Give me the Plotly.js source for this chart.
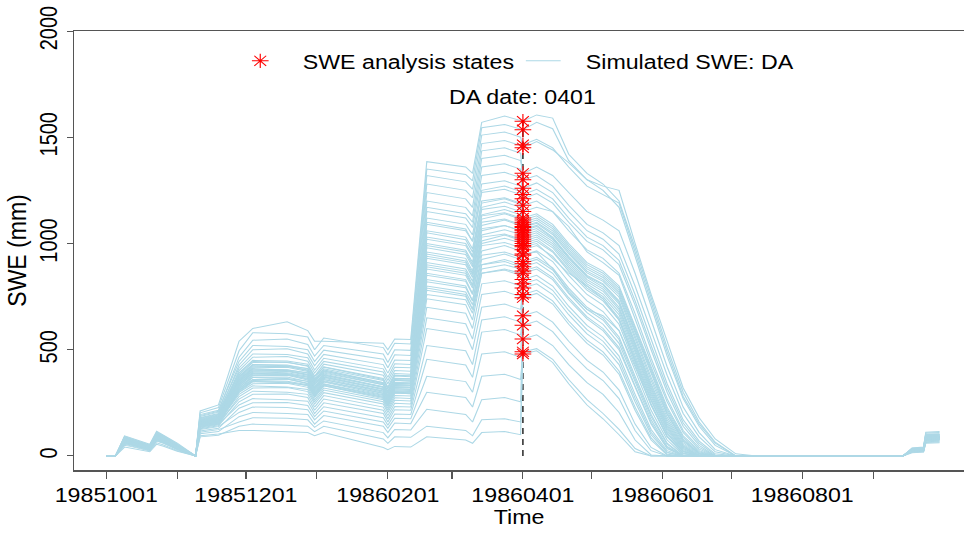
<!DOCTYPE html>
<html>
<head>
<meta charset="utf-8">
<script src="https://cdn.plot.ly/plotly-3.0.1.min.js"></script>
<style>
html,body{margin:0;padding:0;background:#fff;overflow:hidden;}
#chart{width:831px;height:533px;transform:scale(1.16,1);transform-origin:0 0;}
</style>
</head>
<body>
<div id="chart"></div>
<script>
// ---------- DATA ----------
const daDate = '1986-04-01';
const tickDates = ['1985-10-01','1985-11-01','1985-12-01','1986-01-01','1986-02-01','1986-03-01',
                   '1986-04-01','1986-05-01','1986-06-01','1986-07-01','1986-08-01','1986-09-01'];
const tickLabels = ['19851001','','19851201','','19860201','','19860401','','19860601','','19860801',''];
const yTicks = [0, 500, 1000, 1500, 2000];

// open-loop period: one row per date, one value per ensemble member (45 members)
const preDates = ['1985-10-01','1985-10-05','1985-10-09','1985-10-12','1985-10-20','1985-10-23','1985-10-26',
  '1985-11-01','1985-11-09','1985-11-11','1985-11-19','1985-11-28','1985-12-04','1985-12-19','1985-12-28',
  '1985-12-31','1986-01-04','1986-01-30','1986-02-01','1986-02-04','1986-02-11','1986-02-18','1986-03-07',
  '1986-03-10','1986-03-14','1986-03-24','1986-03-31'];
const preSWE = [
  [0,0,0,0,0,0,0,0,0,0,0,0,0,0,0,0,0,0,0,0,0,0,0,0,0,0,0,0,0,0, 0,0,0,0,0,0,0,0,0,0,0,0,0,0,0],
  [0,0,0,0,0,0,0,0,0,0,0,0,0,0,0,0,0,0,0,0,0,0,0,0,0,0,0,0,0,0, 0,0,0,0,0,0,0,0,0,0,0,0,0,0,0],
  [58,42,66,55,70,50,62,75,64,68,60,72,80,67,74,70,86,77,73,82,79,90,76,84,95,78,88,81,92,83, 71,65,80,74,69,77,85,63,72,78,68,83,75,70,88],
  [52,36,58,48,62,44,55,66,56,60,52,64,70,59,65,62,76,68,64,72,70,80,67,74,84,69,78,72,81,73, 63,57,71,65,61,68,75,55,64,69,60,73,66,62,78],
  [30,20,34,26,37,24,31,40,32,35,29,38,42,33,39,36,47,40,35,44,41,50,37,45,55,40,48,43,52,46, 36,32,41,38,34,40,45,30,37,41,33,44,39,35,47],
  [78,55,85,70,90,62,76,95,79,84,72,88,99,80,92,86,106,93,82,101,89,112,87,97,116,83,109,95,103,74, 86,80,96,90,84,92,104,77,88,94,82,100,91,85,108],
  [66,46,72,60,76,52,64,80,67,71,61,75,84,68,78,73,90,79,70,86,76,95,74,82,98,70,92,81,88,63, 73,68,82,77,71,78,88,65,75,80,70,85,77,72,92],
  [36,22,40,30,43,26,34,46,35,38,31,41,48,37,44,40,52,45,38,49,42,56,40,47,60,39,54,44,50,33, 40,36,46,42,38,44,50,34,41,45,37,48,43,39,52],
  [0,0,0,0,0,0,0,0,0,0,0,0,0,0,0,0,0,0,0,0,0,0,0,0,0,0,0,0,0,0, 0,0,0,0,0,0,0,0,0,0,0,0,0,0,0],
  [95,90,112,105,125,118,135,128,140,132,145,150,138,155,148,160,143,165,158,170,152,175,180,168,186,178,195,190,203,212, 150,146,158,162,140,155,168,144,152,160,148,165,156,142,172],
  [103,98,124,115,138,130,150,142,155,147,160,165,152,170,163,176,158,182,174,188,168,193,200,186,206,196,215,210,228,240, 165,160,172,178,152,170,184,157,166,175,162,180,168,155,190],
  [120,140,160,185,205,225,240,255,268,280,290,300,310,318,326,334,342,350,358,366,374,382,392,402,414,428,445,465,495,540, 330,315,350,362,300,340,375,310,335,355,322,370,345,305,390],
  [120,150,180,205,230,250,270,290,305,320,330,340,350,360,370,380,390,400,410,420,430,440,450,465,480,500,520,545,580,600, 385,370,405,415,350,395,430,360,390,410,378,425,400,355,445],
  [115,145,178,200,228,252,265,292,300,322,325,342,345,362,365,382,385,402,405,422,425,442,447,468,478,505,515,550,575,632, 383,372,400,418,348,392,428,362,388,406,380,422,398,352,440],
  [110,140,170,195,218,238,258,275,290,303,313,323,333,342,352,362,372,382,392,402,412,422,432,446,462,480,500,525,560,590, 365,350,385,398,330,375,410,340,370,390,358,405,380,335,425],
  [95,115,135,150,170,185,200,215,230,245,255,265,275,285,295,305,315,325,335,345,355,365,375,390,405,425,445,470,500,540, 310,290,335,350,280,320,360,295,315,340,300,355,325,285,375],
  [110,140,165,190,212,232,250,268,284,298,310,320,330,340,350,360,370,380,390,400,410,420,432,445,460,478,498,520,555,540, 360,348,382,395,330,372,405,338,366,386,354,400,376,334,418],
  [40,80,110,140,160,180,200,215,230,245,255,265,275,285,295,305,315,325,335,345,355,365,380,395,410,430,455,480,510,530, 300,288,322,335,270,312,345,280,306,326,294,340,316,276,360],
  [30,60,85,110,130,145,160,175,190,205,215,225,235,245,255,265,275,285,295,305,315,325,340,355,370,390,415,440,475,500, 262,250,282,295,235,272,305,242,266,286,256,300,276,240,320],
  [45,90,125,155,178,198,218,233,248,262,274,285,296,306,316,326,336,346,356,366,376,388,402,418,434,452,476,500,530,550, 322,310,342,355,296,332,365,302,326,346,316,360,336,300,380],
  [42,88,122,152,175,195,215,230,245,259,271,282,293,303,313,323,333,343,353,363,373,385,399,415,431,449,473,497,527,548, 320,308,340,352,293,330,362,300,324,344,314,357,334,297,378],
  [90,140,220,300,375,455,520,600,650,700,740,790,830,860,900,930,960,990,1020,1060,1090,1120,1150,1170,1200,1240,1280,1320,1350,1385, 880,820,950,1000,760,910,1050,800,890,980,850,1030,940,780,1100],
  [75,120,195,275,350,428,495,572,622,672,712,760,800,830,870,900,930,960,990,1030,1060,1090,1120,1140,1170,1210,1250,1290,1325,1360, 850,792,918,968,735,880,1018,772,860,948,822,1000,910,752,1068],
  [60,95,160,230,300,370,430,500,550,600,640,690,730,765,805,840,870,900,935,975,1010,1040,1075,1100,1130,1170,1215,1255,1295,1330, 790,730,860,912,672,822,960,712,800,890,760,942,852,690,1010],
  [110,170,265,375,480,583,640,700,760,810,860,900,945,990,1030,1070,1100,1130,1160,1200,1240,1280,1320,1360,1400,1436,1470,1510,1545,1570, 1000,925,1085,1135,860,1040,1190,900,1012,1115,965,1170,1060,880,1250],
  [115,175,275,385,490,595,655,715,775,825,875,915,960,1005,1045,1085,1115,1145,1175,1215,1255,1295,1335,1375,1415,1450,1485,1525,1560,1600, 1025,950,1110,1160,880,1065,1210,925,1040,1140,990,1195,1085,900,1270],
  [100,160,255,360,465,570,630,690,750,800,850,890,935,980,1020,1060,1090,1120,1150,1190,1230,1270,1310,1350,1390,1425,1460,1500,1540,1580, 1000,925,1085,1135,860,1040,1185,900,1015,1115,965,1170,1060,880,1245]
];

// SWE analysis states on the DA date (one per member)
const analysisSWE = [550,480,615,490,745,660,830,790,890,860,945,915,990,1030,970,1065,1010,1100,1050,1080,1180,1120,1260,1210,1330,1300,1465,1450,1535,1575,
  1000,950,1060,1090,905,1040,1150,760,1020,1075,870,1110,985,810,1230];

// melt season after DA: one row per member
const postDates = ['1986-04-07','1986-04-14','1986-04-21','1986-04-29','1986-05-06','1986-05-13','1986-05-20',
  '1986-05-27','1986-06-03','1986-06-10','1986-06-17','1986-06-24','1986-07-03','1986-07-12'];
const postSWE = [
  [570,520,430,345,290,205,75,5,0,0,0,0,0,0],
  [495,440,340,240,175,100,20,0,0,0,0,0,0,0],
  [635,585,495,410,355,270,120,25,0,0,0,0,0,0],
  [505,455,360,265,200,125,35,0,0,0,0,0,0,0],
  [765,715,620,530,475,385,215,75,5,0,0,0,0,0],
  [680,630,540,450,395,310,150,40,0,0,0,0,0,0],
  [850,800,705,615,560,470,290,125,25,0,0,0,0,0],
  [810,760,665,575,520,430,255,100,15,0,0,0,0,0],
  [910,860,765,675,620,530,345,170,45,0,0,0,0,0],
  [880,830,735,645,590,500,320,150,35,0,0,0,0,0],
  [965,915,820,730,680,590,400,215,75,5,0,0,0,0],
  [935,885,790,700,650,560,375,195,60,0,0,0,0,0],
  [1010,960,870,780,730,640,450,260,105,20,0,0,0,0],
  [1050,1000,910,820,775,690,500,300,135,35,0,0,0,0],
  [990,940,850,760,710,620,430,240,90,10,0,0,0,0],
  [1085,1030,940,850,810,730,540,340,170,55,5,0,0,0],
  [1030,980,890,800,750,665,475,280,120,25,0,0,0,0],
  [1120,1070,980,890,850,780,590,390,210,80,15,0,0,0],
  [1070,1020,930,840,795,715,520,320,150,45,0,0,0,0],
  [1100,1050,960,870,830,760,570,370,195,70,10,0,0,0],
  [1200,1150,1060,970,930,860,670,460,270,120,40,0,0,0],
  [1140,1090,1000,910,870,800,610,410,230,95,25,0,0,0],
  [1285,1240,1150,1060,1020,950,760,550,340,170,70,10,0,0],
  [1235,1190,1100,1010,970,900,710,500,300,140,50,0,0,0],
  [1360,1320,1240,1150,1110,1060,860,640,420,230,110,30,0,0],
  [1320,1270,1180,1090,1050,990,800,590,380,200,90,20,0,0],
  [1490,1450,1360,1270,1230,1190,960,720,490,280,150,60,0,0],
  [1480,1440,1380,1300,1270,1250,1000,760,540,320,180,80,10,0],
  [1570,1540,1390,1300,1250,1170,940,700,470,270,140,50,0,0],
  [1605,1590,1420,1330,1280,1200,980,740,510,300,160,65,0,0],
  [1020,965,880,790,740,650,460,268,110,22,0,0,0,0],
  [960,880,770,690,660,590,420,240,90,12,0,0,0,0],
  [1080,1025,935,845,805,722,530,330,160,50,0,0,0,0],
  [1110,1060,970,880,840,770,580,380,200,75,12,0,0,0],
  [925,875,780,690,640,548,362,185,55,0,0,0,0,0],
  [1060,1010,920,830,785,700,510,310,142,40,0,0,0,0],
  [1170,1150,1080,960,910,850,650,440,255,110,32,0,0,0],
  [780,730,635,545,490,400,230,85,8,0,0,0,0,0],
  [1040,990,900,810,762,678,488,290,128,30,0,0,0,0],
  [1095,1042,952,862,822,748,556,356,182,62,8,0,0,0],
  [890,840,745,655,600,510,330,158,40,0,0,0,0,0],
  [1130,1080,990,900,860,790,600,400,220,88,20,0,0,0],
  [1000,930,860,800,740,640,440,245,95,14,0,0,0,0],
  [830,780,685,595,540,450,272,112,18,0,0,0,0,0],
  [1255,1210,1120,1030,990,920,730,520,320,155,60,5,0,0]
];

// new snow at the end of September: one row per date
const lateDates = ['1986-09-14','1986-09-18','1986-09-23','1986-09-24','1986-09-30'];
const lateSWE = [
  [0,0,0,0,0,0,0,0,0,0,0,0,0,0,0,0,0,0,0,0,0,0,0,0,0,0,0,0,0,0, 0,0,0,0,0,0,0,0,0,0,0,0,0,0,0],
  [15,18,20,20,22,22,24,24,25,25,26,26,27,27,28,28,28,29,29,30,30,31,31,32,32,33,34,35,36,38, 25,27,28,29,30,26,31,24,27,29,25,32,28,26,33],
  [18,20,22,23,24,25,26,27,28,28,29,29,30,30,31,31,32,32,33,33,34,34,35,36,36,37,38,39,40,42, 28,30,31,32,33,29,34,27,30,32,28,35,31,29,36],
  [60,64,67,70,72,74,75,76,77,78,79,80,81,82,83,84,85,86,87,88,89,90,92,94,96,98,100,103,108,112, 80,84,86,88,90,82,92,78,85,89,81,95,87,83,99],
  [62,66,69,72,74,76,77,78,79,80,81,82,83,84,85,86,87,88,89,90,91,92,94,96,98,100,102,105,110,115, 82,86,88,90,92,84,94,80,87,91,83,97,89,85,101]
];

// ---------- TRACES ----------
const FONT = 'Liberation Sans, Arial, Helvetica, sans-serif';
const allDates = preDates.concat([daDate], postDates, lateDates);
const traces = [];
// dashed DA-date marker line (drawn first, the ensemble lines pass over it)
traces.push({
  type: 'scatter', mode: 'lines', x: [daDate, daDate], y: [0, Math.max(...analysisSWE)],
  line: {color: '#000', width: 1.1, dash: '6px,5px'}, showlegend: false, hoverinfo: 'skip'
});
for (let i = 0; i < analysisSWE.length; i++) {
  const y = preSWE.map(r => r[i]).concat([analysisSWE[i]], postSWE[i], lateSWE.map(r => r[i]));
  traces.push({
    type: 'scatter', mode: 'lines', x: allDates, y: y,
    line: {color: '#ADD8E6', width: 1},
    name: '\u00a0\u00a0\u00a0Simulated SWE: DA',
    showlegend: i === 0, legendrank: 2, hoverinfo: 'skip'
  });
}
traces.push({
  type: 'scatter', mode: 'markers', x: analysisSWE.map(() => daDate), y: analysisSWE,
  marker: {symbol: 'asterisk-open', size: 12, color: 'red', line: {color: 'red', width: 1}},
  name: '\u00a0\u00a0\u00a0SWE analysis states', showlegend: true, legendrank: 1, hoverinfo: 'skip'
});

const layout = {
  width: 831, height: 533,
  margin: {l: 64, r: 0, t: 31, b: 63, pad: 0},
  paper_bgcolor: '#fff', plot_bgcolor: '#fff',
  font: {family: FONT, size: 20, color: '#000'},
  showlegend: true,
  legend: {orientation: 'h', x: 0.183, xanchor: 'left', y: 0.932, yanchor: 'middle',
           bgcolor: 'rgba(0,0,0,0)', borderwidth: 0, font: {family: FONT, size: 20, color: '#000'},
           traceorder: 'normal', itemwidth: 30},
  xaxis: {
    type: 'date', range: ['1985-09-17', '1986-10-10 16:00'],
    tickmode: 'array', tickvals: tickDates, ticktext: tickLabels,
    ticks: 'outside', ticklen: 7, tickwidth: 1, tickcolor: '#555',
    showline: true, linecolor: '#555', linewidth: 1.5, mirror: true,
    showgrid: false, zeroline: false,
    tickfont: {family: FONT, size: 20, color: '#000'},
    title: {text: 'Time', font: {family: FONT, size: 20, color: '#000'}, standoff: 0}
  },
  yaxis: {
    range: [-66, 2000], tickmode: 'array', tickvals: yTicks, ticktext: yTicks.map(String),
    tickangle: -90, ticks: 'outside', ticklen: 5, tickwidth: 1, tickcolor: '#555',
    showline: true, linecolor: '#555', linewidth: 1.5,
    showgrid: false, zeroline: false,
    tickfont: {family: FONT, size: 20, color: '#000'},
    title: {text: 'SWE (mm)', font: {family: FONT, size: 23, color: '#000'}, standoff: 2}
  },
  annotations: [{
    x: daDate, y: 1690, xref: 'x', yref: 'y', text: 'DA date: 0401', showarrow: false,
    font: {family: FONT, size: 20, color: '#000'}, xanchor: 'center', yanchor: 'middle'
  }]
};

Plotly.newPlot('chart', traces, layout, {displayModeBar: false, staticPlot: true});
</script>
</body>
</html>
